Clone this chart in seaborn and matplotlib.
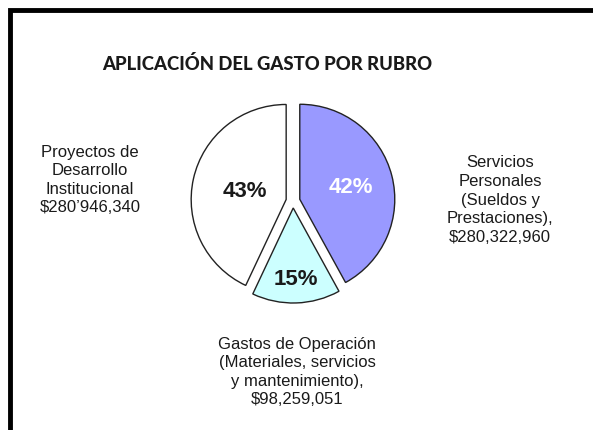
import numpy as np
import matplotlib
matplotlib.use("Agg")
import matplotlib.pyplot as plt
import seaborn as sns
from matplotlib.patches import Rectangle

sns.set_theme(style="white")
plt.rcParams['font.family'] = ['Liberation Sans', 'DejaVu Sans']

# data
rubros = ['Servicios Personales', 'Gastos de Operación', 'Proyectos de Desarrollo Institucional']
porcentajes = [42, 15, 43]
etiquetas = ['Servicios\nPersonales\n(Sueldos y\nPrestaciones),\n$280,322,960',
             'Gastos de Operación\n(Materiales, servicios\ny mantenimiento),\n$98,259,051',
             'Proyectos de\nDesarrollo\nInstitucional\n$280\u2019946,340']
colores = ['#9999ff', '#ccffff', '#ffffff']
color_pct = ['white', '#1a1a1a', '#1a1a1a']
titulo = 'APLICACIÓN DEL GASTO POR RUBRO'

W, H = 593, 431
fig = plt.figure(figsize=(W / 100, H / 100), dpi=100)
ax = fig.add_axes([0, 0, 1, 1])

cx, cy, r = 293, H - 202, 95
# explode is in data units here (pixels)
wedges, _ = ax.pie(porcentajes, colors=colores, startangle=90, counterclock=False,
                   explode=[7, 7, 7], center=(cx, cy), radius=r,
                   wedgeprops=dict(edgecolor='#222222', linewidth=1.0), frame=True)
ax.set_xlim(0, W)
ax.set_ylim(0, H)
ax.set_axis_off()

# percent labels inside each wedge
dist = [0.55, 0.74, 0.45]
for w, p, c, d in zip(wedges, porcentajes, color_pct, dist):
    ang = np.deg2rad((w.theta1 + w.theta2) / 2)
    x = w.center[0] + d * r * np.cos(ang)
    y = w.center[1] + d * r * np.sin(ang)
    ax.text(x, y, f'{p}%', ha='center', va='center', fontsize=16,
            fontweight='bold', color=c)

# category labels
pos_etiquetas = [(500, H - 200), (297, H - 372), (90, H - 180)]
for (x, y), t in zip(pos_etiquetas, etiquetas):
    ax.text(x, y, t, ha='center', va='center', fontsize=12, color='#1a1a1a',
            linespacing=1.3)

ax.text(267, H - 64, titulo, ha='center', va='center', fontsize=13.3,
        fontweight='black', family=['Lato', 'DejaVu Sans'], color='#1a1a1a')

# frame open to the right and bottom
fig.patches.append(Rectangle((9.5 / W, -0.05), 1.1, (H - 11) / H + 0.05,
                             transform=fig.transFigure, fill=False,
                             edgecolor='black', linewidth=3.5))

fig.savefig('out.png', dpi=100, facecolor='white')
